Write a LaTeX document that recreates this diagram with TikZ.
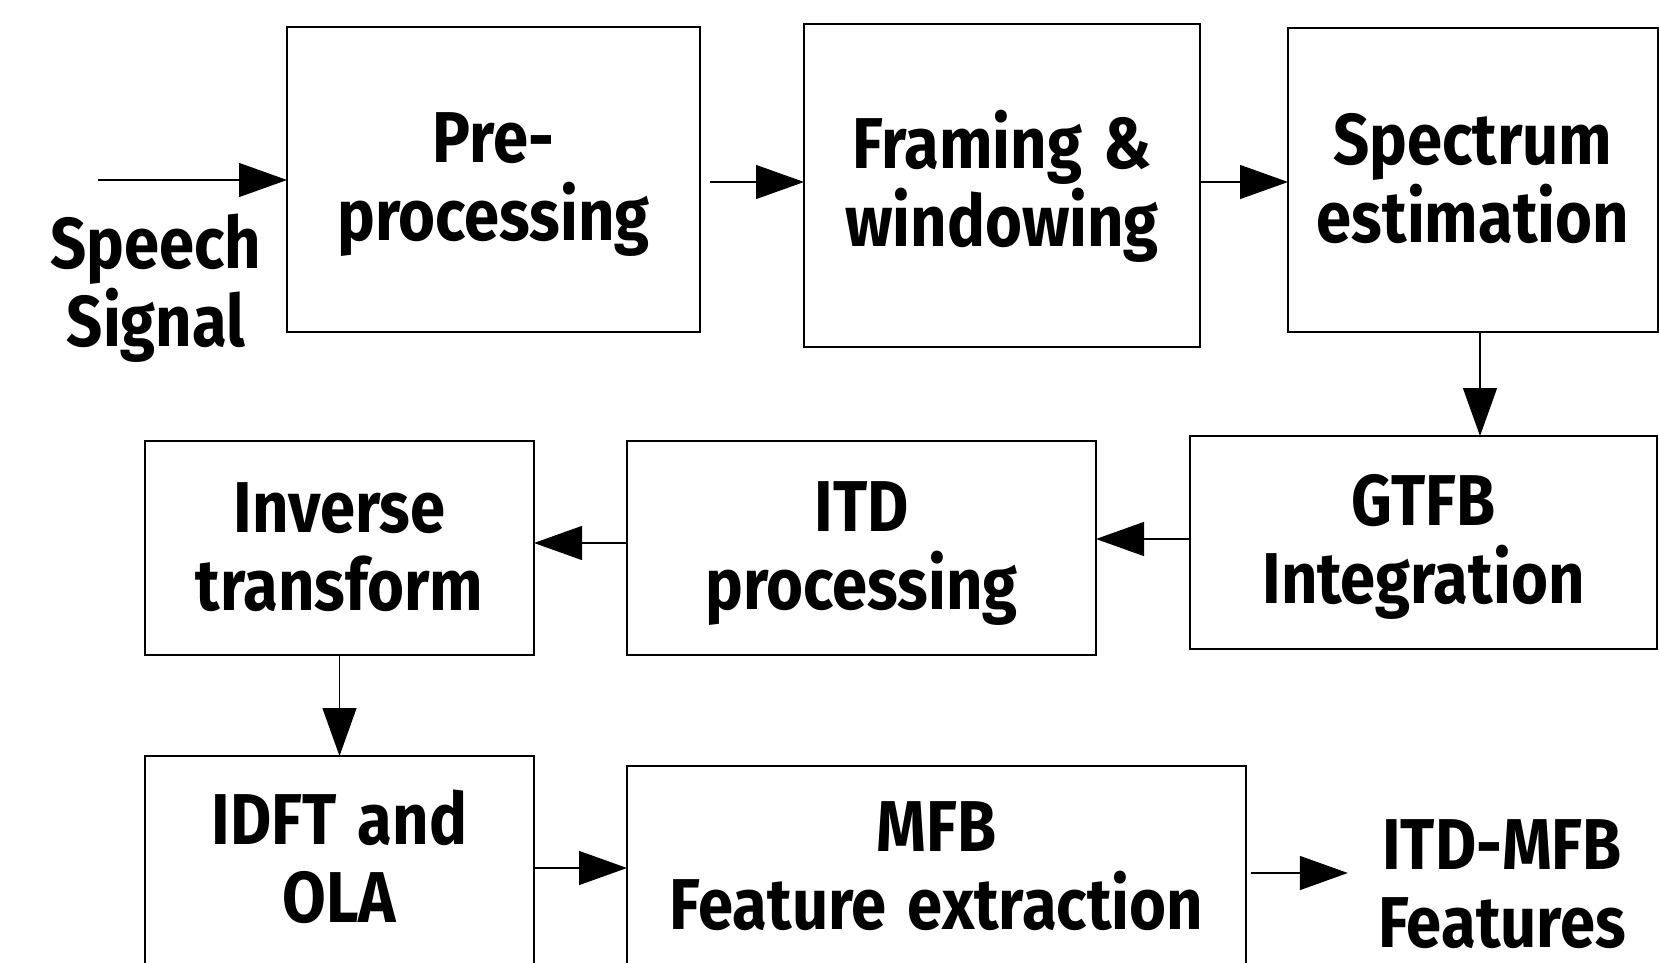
\documentclass[tikz,border=0pt]{standalone}
\usepackage{fontspec}
\newfontfamily\diafont[FakeStretch=0.88,WordSpace=1.4]{Fira Sans}
\usetikzlibrary{arrows.meta}
\newcommand{\twolines}[2]{\rule{0pt}{30pt}#1\\#2\rule[-7pt]{0pt}{0pt}}
\newcommand{\twolinesflat}[2]{\rule{0pt}{30pt}#1\\#2}
\begin{document}
\begin{tikzpicture}[x=0.5pt,y=-0.5pt,
  txt/.style={font={\diafont\bfseries\fontsize{36pt}{39pt}\selectfont}, align=center, inner sep=0pt},
  box/.style={txt, draw, line width=0.6pt, outer sep=0pt},
  arr/.style={line width=0.65pt, -{Triangle[length=24pt,width=17pt]}}]
\useasboundingbox (0,0) rectangle (1659,963);
% boxes
\node[box, minimum width=206.5pt, minimum height=152.5pt] (pre)  at (493.5,179.5) {\twolines{Pre-}{processing}};
\node[box, minimum width=198pt,   minimum height=161.5pt] (frm)  at (1002,185.5) {\twolines{Framing \&}{windowing}};
\node[box, minimum width=185pt,   minimum height=152pt]   (spec) at (1473,180) {\twolines{Spectrum}{estimation}};
\node[box, minimum width=233.5pt, minimum height=106.5pt] (gtfb) at (1423.5,542.5) {\twolines{GTFB}{Integration}};
\node[box, minimum width=234.5pt, minimum height=107pt]   (itd)  at (861.5,548) {\twolines{ITD}{processing}};
\node[box, minimum width=194.5pt, minimum height=107pt]   (inv)  at (339.5,548) {\twolines{Inverse}{transform}};
\node[box, minimum width=194.5pt, minimum height=104.5pt] (idft) at (339.5,860.5) {\twolines{IDFT and}{OLA}};
\node[box, minimum width=309.5pt, minimum height=101.5pt] (mfb)  at (936.5,867.5) {\twolines{MFB}{Feature extraction}};
% free labels
\node[txt] (sig) at (156,285) {\twolines{Speech}{Signal}};
\node[txt] (out) at (1502,879) {\twolinesflat{ITD-MFB}{Features}};
\coordinate (in) at (98,180);
% connectors
\draw[arr] (in) -- (in -| pre.west);
\draw[arr] ([shift={(10,2.5)}]pre.east) -- ([shift={(0,-3.5)}]frm.west);
\draw[arr] ([shift={(0,-3.5)}]frm.east) -- ([shift={(0,2)}]spec.west);
\draw[arr] ([shift={(7,0)}]spec.south) -- ([shift={(56.5,0)}]gtfb.north);
\draw[arr] ([shift={(0,-3.5)}]gtfb.west) -- ([shift={(0,-9)}]itd.east);
\draw[arr] ([shift={(0,-5)}]itd.west) -- ([shift={(0,-5)}]inv.east);
\draw[arr] (inv.south) -- (idft.north);
\draw[arr] ([shift={(0,7.5)}]idft.east) -- ([shift={(0,0.5)}]mfb.west);
\draw[arr] ([shift={(5,5.5)}]mfb.east) -- ([shift={(-30,-6)}]out.west);
\end{tikzpicture}
\end{document}
